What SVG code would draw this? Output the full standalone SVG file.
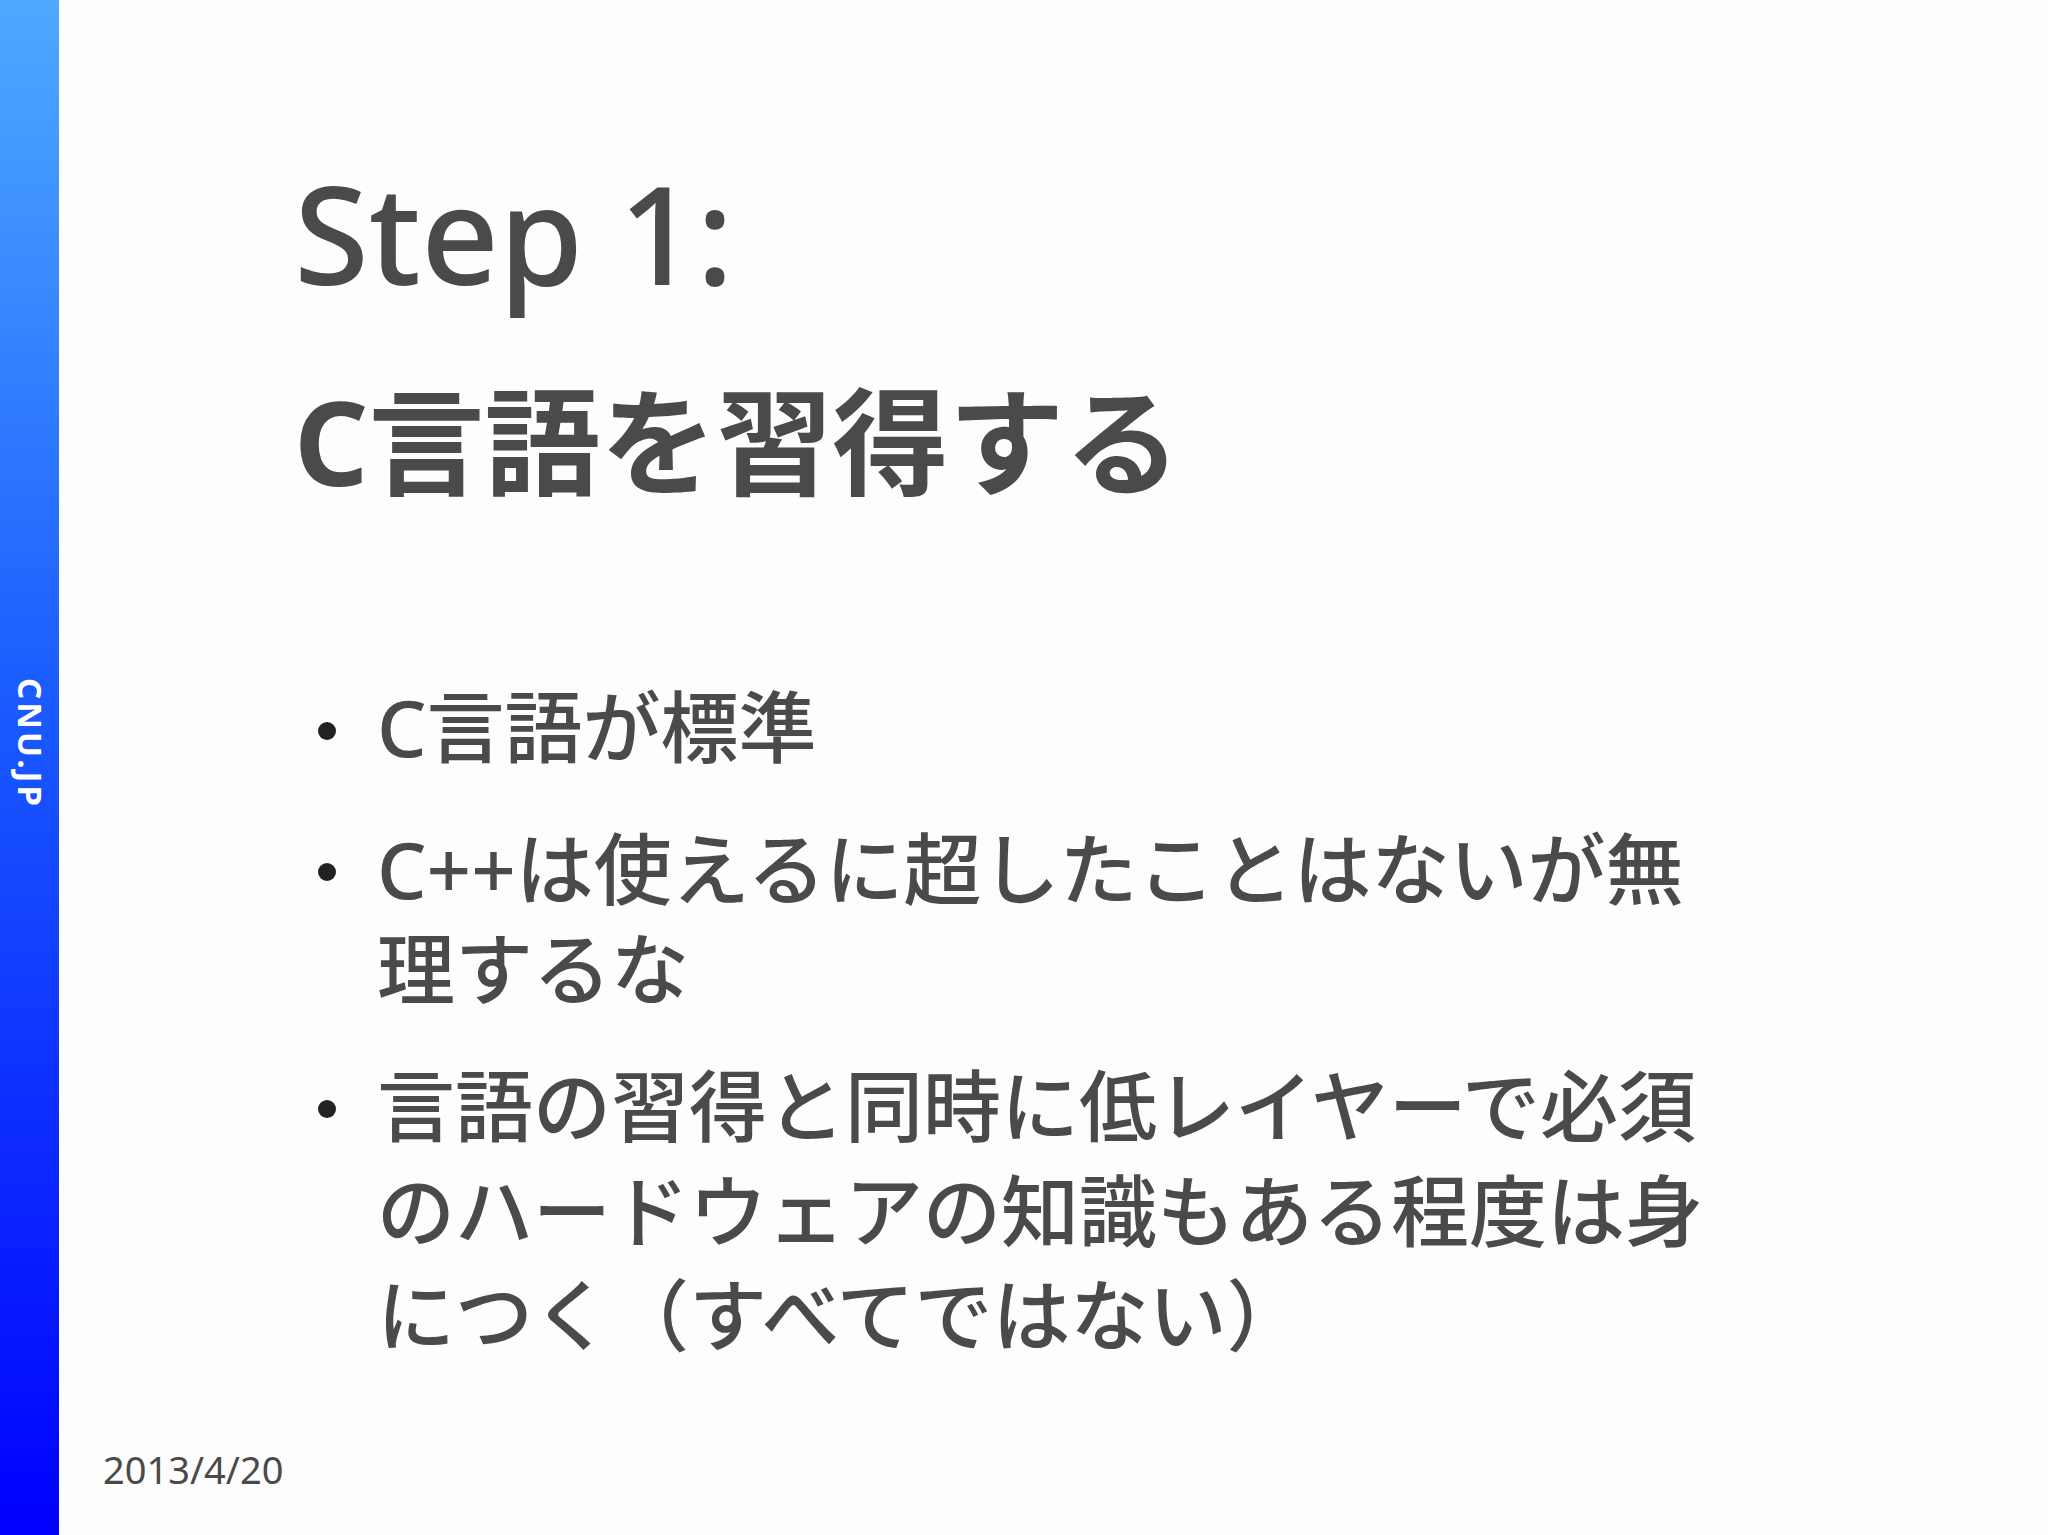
<svg xmlns="http://www.w3.org/2000/svg" width="2048" height="1535" viewBox="0 0 2048 1535">
<defs>
<linearGradient id="bar" x1="0" y1="0" x2="0" y2="1">
<stop offset="0" stop-color="#4fa9ff"/>
<stop offset="0.45" stop-color="#1a5cff"/>
<stop offset="1" stop-color="#0000ff"/>
</linearGradient>
<style>
.t{font-family:"Noto Sans","Noto Sans CJK JP",sans-serif;fill:#4a4a4a}
.b{font-size:78px;font-weight:500}
</style>
</defs>
<rect width="2048" height="1535" fill="#fdfdfd"/>
<rect x="0" y="0" width="59" height="1535" fill="url(#bar)"/>
<text transform="translate(18,678) rotate(90)" font-family="Noto Sans, sans-serif" font-weight="bold" font-size="33" fill="#fff" letter-spacing="3">CNU.JP</text>
<g id="title">
<text class="t" x="294" y="285" font-size="136" font-weight="500">Step 1:</text>
<text class="t" x="294" y="486" font-size="116" font-weight="bold">C言語を習得する</text>
</g>
<g id="bullets">
<circle cx="327" cy="731" r="9" fill="#222"/>
<circle cx="327" cy="872" r="9" fill="#222"/>
<circle cx="327" cy="1109" r="9" fill="#222"/>
<text class="t b" x="377" y="757">C言語が標準</text>
<text class="t b" x="377" y="899">C++は使えるに超したことはないが無</text>
<text class="t b" x="377" y="999">理するな</text>
<text class="t b" x="377" y="1136">言語の習得と同時に低レイヤーで必須</text>
<text class="t b" x="377" y="1241">のハードウェアの知識もある程度は身</text>
<text class="t b" x="377" y="1345">につく（すべてではない）</text>
</g>
<text class="t" x="103" y="1484" font-size="38" fill="#222">2013/4/20</text>
</svg>
